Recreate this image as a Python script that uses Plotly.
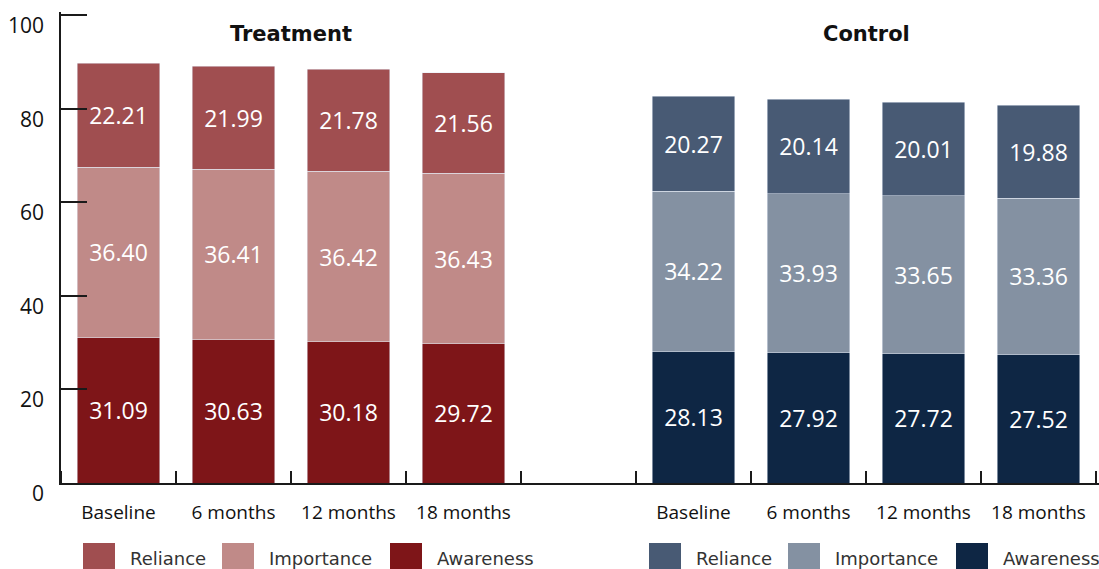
import plotly.graph_objects as go

# Time points and group layout
periods = ["Baseline", "6 months", "12 months", "18 months"]
treatment_pos = [0, 1, 2, 3]
control_pos = [5, 6, 7, 8]
tick_labels = periods + periods
y_ticks = [0, 20, 40, 60, 80, 100]

# Treatment group scores
treat_awareness = [31.09, 30.63, 30.18, 29.72]
treat_importance = [36.40, 36.41, 36.42, 36.43]
treat_reliance = [22.21, 21.99, 21.78, 21.56]

# Control group scores
ctrl_awareness = [28.13, 27.92, 27.72, 27.52]
ctrl_importance = [34.22, 33.93, 33.65, 33.36]
ctrl_reliance = [20.27, 20.14, 20.01, 19.88]

series_names = ["Awareness", "Importance", "Reliance"]
treat_colors = ["#7E1518", "#C08A88", "#A04E50"]
ctrl_colors = ["#0E2644", "#8491A2", "#485A74"]

W, H = 1099, 569
# A few pixels of slack past the last tick at the top and right so that
# Plotly keeps the end ticks (it drops ticks sitting right on the plot edge).
SLACK = 3
M_L, M_R, M_T, M_B = 61, 3 - SLACK, 15 - SLACK, 86
plot_w = W - M_L - M_R
plot_h = H - M_T - M_B
x_lo, x_hi = -0.5, 8.5
y_lo, y_hi = 0, 100
x_range = [x_lo, x_hi + SLACK * (x_hi - x_lo) / (plot_w - SLACK)]
y_range = [y_lo, y_hi + SLACK * (y_hi - y_lo) / (plot_h - SLACK)]

label_font = dict(family="Open Sans, sans-serif", size=23, color="white")
axis_color = "#1a1a1a"
text_color = "#111111"

fig = go.Figure()

for name, vals, color in zip(series_names,
                             [treat_awareness, treat_importance, treat_reliance],
                             treat_colors):
    fig.add_trace(go.Bar(
        x=treatment_pos, y=vals, name=name, marker_color=color,
        texttemplate="%{y:.2f}", textposition="inside", insidetextanchor="middle",
        textfont=label_font, width=0.72, showlegend=False,
    ))

for name, vals, color in zip(series_names,
                             [ctrl_awareness, ctrl_importance, ctrl_reliance],
                             ctrl_colors):
    fig.add_trace(go.Bar(
        x=control_pos, y=vals, name=name, marker_color=color,
        texttemplate="%{y:.2f}", textposition="inside", insidetextanchor="middle",
        textfont=label_font, width=0.72, showlegend=False,
    ))


def px_x(px):
    return (px - M_L) / plot_w


def px_y(py):
    return (H - M_B - py) / plot_h


# Y tick labels sit a little below their tick marks
y_labels = [
    dict(xref="paper", yref="y", x=0, y=v, xanchor="right", yanchor="middle",
         xshift=-15, yshift=-10, text=str(v), showarrow=False,
         font=dict(family="Open Sans, sans-serif", size=21, color=text_color))
    for v in y_ticks
]

# Legend rows below each group: large square swatch followed by its label
legend_shapes, legend_notes = [], []
swatch_w, swatch_h = 32, 26
swatch_offsets = [0, 139, 307]
legend_top = 543
legend_font = dict(family="DejaVu Sans, sans-serif", size=18, color="#333333")
for start_px, colors in [(83, treat_colors), (649, ctrl_colors)]:
    # entries read left to right: Reliance, Importance, Awareness
    for off, name, color in zip(swatch_offsets, series_names[::-1], colors[::-1]):
        x0 = start_px + off
        legend_shapes.append(dict(
            type="rect", xref="paper", yref="paper",
            x0=px_x(x0), x1=px_x(x0 + swatch_w),
            y0=px_y(legend_top + swatch_h), y1=px_y(legend_top),
            fillcolor=color, line=dict(width=0), layer="above",
        ))
        legend_notes.append(dict(
            xref="paper", yref="paper", x=px_x(x0 + swatch_w + 15), xshift=-2,
            y=px_y(legend_top + swatch_h / 2 + 2),
            xanchor="left", yanchor="middle", text=name, showarrow=False,
            font=legend_font,
        ))

title_font = dict(family="DejaVu Sans, sans-serif", size=21, color=text_color)
group_titles = [
    dict(x=1.5, y=96, xref="x", yref="y", text="<b>Treatment</b>",
         showarrow=False, font=title_font),
    dict(x=6.5, y=96, xref="x", yref="y", text="<b>Control</b>",
         showarrow=False, font=title_font),
]

fig.update_layout(
    width=W, height=H,
    margin=dict(l=M_L, r=M_R, t=M_T, b=M_B),
    barmode="stack",
    plot_bgcolor="white", paper_bgcolor="white",
    showlegend=False,
    xaxis=dict(
        range=x_range,
        tickmode="array", tickvals=treatment_pos + control_pos, ticktext=tick_labels,
        ticks="", showgrid=False, zeroline=False,
        showline=True, linecolor=axis_color, linewidth=2,
        tickfont=dict(family="Open Sans, sans-serif", size=19, color=text_color),
        ticklabelstandoff=11,
        minor=dict(tickmode="linear", tick0=-0.5, dtick=1, ticks="inside",
                   ticklen=12, tickwidth=2, tickcolor=axis_color, showgrid=False),
    ),
    yaxis=dict(
        range=y_range, tickvals=y_ticks, showticklabels=False,
        ticks="inside", ticklen=26, tickwidth=2, tickcolor=axis_color,
        showgrid=False, zeroline=False,
        showline=True, linecolor=axis_color, linewidth=2,
    ),
    shapes=legend_shapes,
    annotations=y_labels + group_titles + legend_notes,
)

fig.write_html("out.html")
